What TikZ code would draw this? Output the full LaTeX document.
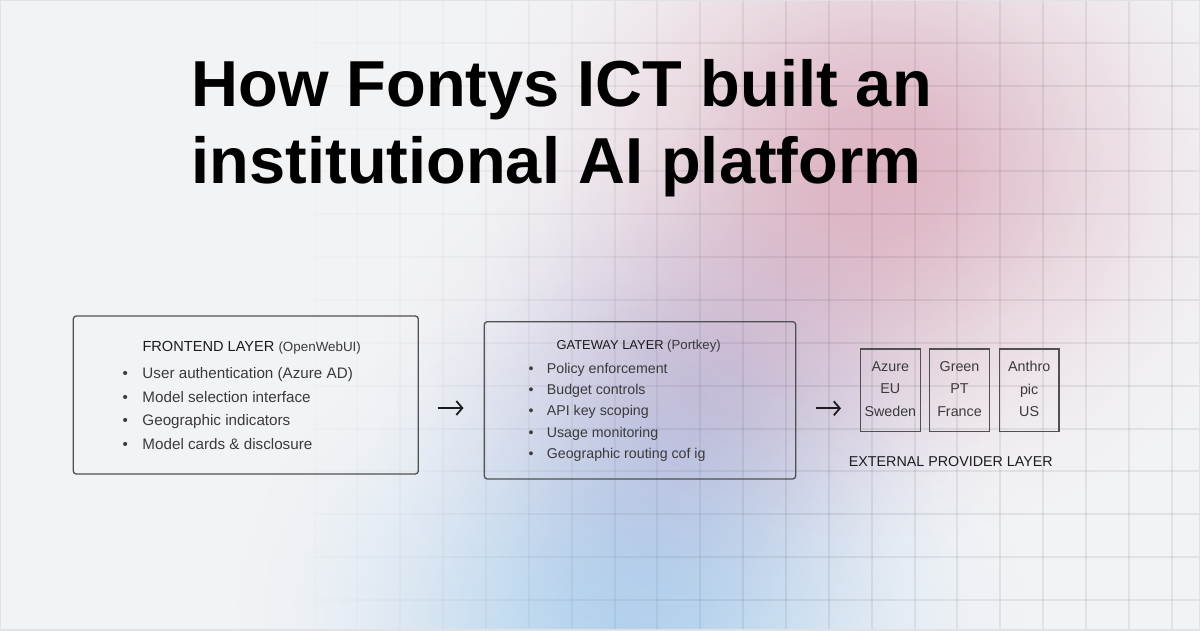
\documentclass[tikz,border=0pt]{standalone}
\usepackage{fontspec}
\setmainfont{Liberation Sans}
\usepackage{xcolor}
\usetikzlibrary{arrows.meta}
\definecolor{pagebg}{RGB}{242,243,245}
\definecolor{rimc}{RGB}{224,226,230}
\definecolor{pinkc}{RGB}{234,190,204}
\definecolor{bluec}{RGB}{190,222,248}
\definecolor{lilac}{RGB}{220,212,234}
\definecolor{boxline}{RGB}{80,80,82}
\definecolor{inkc}{RGB}{28,28,30}
\definecolor{textc}{RGB}{58,58,60}
\colorlet{glowc}{pinkc}
\pgfdeclareradialshading[glowc]{glow}{\pgfpoint{0bp}{0bp}}{%
  color(0bp)=(glowc); color(4bp)=(glowc!90!white); color(8bp)=(glowc!68!white);
  color(12bp)=(glowc!42!white); color(16bp)=(glowc!20!white); color(20bp)=(glowc!6!white);
  color(24bp)=(white); color(50bp)=(white)}

\begin{document}
\begin{tikzpicture}[x=1pt, y=-1pt]
  \tikzstyle{layer}=[draw=boxline, line width=1.3pt, rounded corners=3pt, inner sep=0pt]
  \tikzstyle{provider}=[draw=boxline, line width=1.2pt, inner sep=0pt, minimum width=59.5pt, minimum height=82.7pt,
    align=center, text=textc, font=\fontsize{14.3}{22.7}\selectfont]
  \tikzstyle{head}=[inner sep=0pt, text=inkc]
  \tikzstyle{item}=[anchor=base west, inner sep=0pt, text=textc]
  \tikzstyle{title}=[anchor=base west, inner sep=0pt, text=black, font=\fontsize{65}{76}\selectfont\bfseries]
  \tikzstyle{gridline}=[draw=black, line width=1.2pt]
  \tikzstyle{flow}=[draw=inkc, line width=1.8pt, -{Straight Barb[length=6pt,width=14pt]}]

  \fill[pagebg] (0,0) rectangle (1200,630);
  \useasboundingbox (0,0) rectangle (1200,630);
  \begin{scope}
    \clip (0,0) rectangle (1200,630);
    \begin{scope}[blend mode=multiply]
      \colorlet{glowc}{lilac}
      \shade[shading=glow] (690,390) ellipse (340pt and 290pt);
      \colorlet{glowc}{pinkc}
      \shade[shading=glow] (880,170) ellipse (430pt and 390pt);
      \colorlet{glowc}{bluec}
      \shade[shading=glow] (630,625) ellipse (430pt and 370pt);
    \end{scope}
    \foreach \k in {0,...,27} {
      \pgfmathsetmacro\gx{round(14.5+42.86*\k)}
      \pgfmathsetmacro\op{0.065*min(1,max(0,(\gx-250)/520))}
      \draw[gridline, opacity=\op] (\gx,0) -- (\gx,630);
    }
    \foreach \j in {1,...,14} {
      \pgfmathsetmacro\gy{round(42.86*\j)}
      \foreach \k in {0,...,28} {
        \pgfmathsetmacro\xa{round(14.5+42.86*(\k-1))}
        \pgfmathsetmacro\xb{round(14.5+42.86*\k)}
        \pgfmathsetmacro\op{0.065*min(1,max(0,(\xa+21.43-250)/520))}
        \draw[gridline, opacity=\op] (\xa,\gy) -- (\xb,\gy);
      }
    }
  \end{scope}
  \draw[rimc, line width=2pt] (0,0) rectangle (1200,630);

  \node[title] (tline1) at (191.3,106.7) {How Fontys ICT built an};
  \node[title] (tline2) at (191.6,183.3) {institutional AI platform};

  \node[layer, minimum width=345pt, minimum height=158pt] (front) at (245.8,395) {};
  \node[head, anchor=base west] (fronthead) at (142.3,351.7)
    {\fontsize{14.6}{18}\selectfont FRONTEND LAYER {\fontsize{13.4}{16}\selectfont\color{textc}(OpenWebUI)}};
  \foreach \t [count=\i] in {User authentication (Azure AD), Model selection interface,
      Geographic indicators, Model cards \& disclosure}
    \node[item, font=\fontsize{15.2}{18}\selectfont] (fitem\i) at (122.3,355.2+23.5*\i)
      {\makebox[20pt][l]{\textbullet}\t};

  \node[layer, minimum width=311.4pt, minimum height=157.3pt] (gate) at (640,400.35) {};
  \node[head, anchor=base] (gatehead) at (638.7,349.3)
    {\fontsize{12.9}{16}\selectfont GATEWAY LAYER {\fontsize{13.2}{16}\selectfont\color{textc}(Portkey)}};
  \foreach \t [count=\i] in {Policy enforcement, Budget controls, API key scoping,
      Usage monitoring, Geographic routing cof ig}
    \node[item, font=\fontsize{14.2}{17}\selectfont] (gitem\i) at (528.5,352.05+21.25*\i)
      {\makebox[18.2pt][l]{\textbullet}\t};

  \node[provider, text depth=3pt] (azure) at (890.35,390.35) {Azure\\EU\\Sweden};
  \node[provider, text depth=3pt] (green) at (959.5,390.35) {Green\\PT\\France};
  \node[provider, text depth=3pt] (anthro) at (1029.15,390.35) {Anthro\\pic\\US};
  \node[head, anchor=base, font=\fontsize{14.3}{17}\selectfont] (extlabel) at (950.8,466.7) {EXTERNAL PROVIDER LAYER};

  \coordinate (fa) at (437.5,408);
  \coordinate (fb) at (463.5,408);
  \coordinate (ga) at (816,408.3);
  \coordinate (gb) at (841,408.3);
  \draw[flow] (fa) -- (fb);
  \draw[flow] (ga) -- (gb);
\end{tikzpicture}
\end{document}
